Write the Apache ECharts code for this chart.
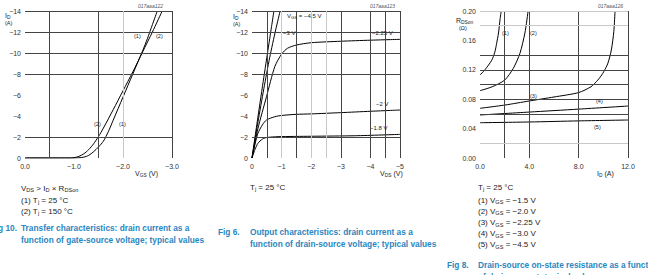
<!DOCTYPE html>
<html>
<head>
<meta charset="utf-8">
<script src="https://cdn.jsdelivr.net/npm/echarts@6/dist/echarts.min.js"></script>
<style>
html, body { margin: 0; padding: 0; background: #fff; }
#main { width: 648px; height: 275px; }
</style>
</head>
<body>
<div id="main"></div>
<script>
// Fig 10 - transfer characteristics, Id (A) vs Vgs (V)
var vgsT25 = [0, -0.5, -1.0, -1.1, -1.2, -1.3, -1.4, -1.5, -1.6, -1.7, -1.8, -2.0, -2.2, -2.4, -2.5, -2.6, -2.7];
var idT25 = [0, 0, 0, -0.02, -0.08, -0.25, -0.6, -1.05, -1.6, -2.5, -3.6, -5.8, -8.0, -10.2, -11.4, -12.7, -14];
var vgsT150 = [0, -0.5, -0.9, -1.0, -1.1, -1.2, -1.3, -1.4, -1.5, -1.6, -1.8, -2.0, -2.2, -2.4, -2.6, -2.8];
var idT150 = [0, 0, 0, -0.03, -0.15, -0.4, -0.8, -1.35, -2.05, -2.85, -4.6, -6.4, -8.2, -10.1, -12.0, -14];

// Fig 6 - output characteristics, Id (A) vs Vds (V), one curve per Vgs
var vdsG45 = [0, -0.2, -0.4, -0.6, -0.74];
var idG45 = [0, -3.9, -7.7, -11.4, -14];
var vdsG30 = [0, -0.2, -0.4, -0.6, -0.8, -0.95];
var idG30 = [0, -3.4, -6.6, -9.6, -12.2, -14];
var vdsG225 = [0, -0.2, -0.49, -0.77, -1.0, -1.2, -1.5, -2.0, -3.0, -4.0, -5.0];
var idG225 = [0, -2.8, -5.84, -8.7, -9.9, -10.45, -10.76, -10.98, -11.12, -11.22, -11.3];
var vdsG20 = [0, -0.1, -0.2, -0.35, -0.49, -0.77, -1.0, -1.5, -2.0, -3.0, -4.0, -5.0];
var idG20 = [0, -1.3, -2.35, -3.15, -3.62, -3.93, -4.05, -4.16, -4.2, -4.32, -4.45, -4.57];
var vdsG18 = [0, -0.1, -0.2, -0.35, -0.5, -0.88, -2.0, -3.5, -5.0];
var idG18 = [0, -0.8, -1.4, -1.8, -1.95, -2.03, -2.07, -2.12, -2.25];

// Fig 8 - on-state resistance, Rdson (ohm) vs Id (A)
var idR1 = [0, 0.4, 0.95, 1.2, 1.35, 1.5, 1.62, 1.72];
var rR1 = [0.113, 0.120, 0.133, 0.144, 0.156, 0.170, 0.188, 0.200];
var idR2 = [0, 1.0, 2.0, 2.7, 3.24, 3.64, 3.9];
var rR2 = [0.0916, 0.097, 0.106, 0.122, 0.1425, 0.170, 0.200];
var idR3 = [0, 2, 4, 6, 8, 9.0, 9.55, 9.95, 10.35, 10.65, 10.85, 10.95];
var rR3 = [0.0676, 0.072, 0.0776, 0.083, 0.089, 0.097, 0.106, 0.115, 0.128, 0.147, 0.172, 0.200];
var idR4 = [0, 4, 8, 12];
var rR4 = [0.0585, 0.0625, 0.0665, 0.0707];
var idR5 = [0, 4, 8, 12];
var rR5 = [0.048, 0.049, 0.0505, 0.0517];

// grid lines as drawn in the datasheet (not every tick has one)
var f10GridX = [-0.5, -1.5, -3.0];
var f10GridXLight = [-2.0];
var f10GridY = [-14, -12, -10, -8, -2];
var f6GridX = [-0.5, -1.5, -3.0, -4.0, -4.5, -5.0];
var f6GridXLight = [-1.0, -2.0, -2.5];
var f6GridY = [-14, -12, -10, -8, -2];
var f8GridX = [2, 4, 8, 12];
var f8GridY = [0.14, 0.12, 0.10, 0.08, 0.06];
var f8GridYLight = [0.20, 0.18, 0.02];

var FONT = 'Liberation Sans';
var CAPTION = '#2a86c0';
var CAP = 8.3;

function zip(xs, ys) {
    return xs.map(function (x, i) { return [x, ys[i]]; });
}

function neg(v, d) {
    if (v === 0) return (0).toFixed(d);
    return (v < 0 ? '\u2212' : '') + Math.abs(v).toFixed(d);
}

function curve(idx, xs, ys) {
    return {
        type: 'line', xAxisIndex: idx, yAxisIndex: idx,
        data: zip(xs, ys), showSymbol: false, smooth: 0.25,
        lineStyle: { color: '#000', width: 1 }, z: 3, silent: true
    };
}

function gridLines(idx, xs, ys, color) {
    var d = xs.map(function (v) { return { xAxis: v }; })
        .concat(ys.map(function (v) { return { yAxis: v }; }));
    return {
        type: 'line', xAxisIndex: idx, yAxisIndex: idx, data: [], z: 1, silent: true,
        markLine: {
            symbol: ['none', 'none'], silent: true, label: { show: false },
            lineStyle: { color: color, width: 1, type: 'solid' },
            emphasis: { disabled: true }, animation: false, data: d
        }
    };
}

function xAx(idx, min, max, step, inv, fmt) {
    return {
        gridIndex: idx, type: 'value', min: min, max: max, interval: step, inverse: inv,
        axisLine: { show: false }, axisTick: { show: false }, splitLine: { show: false },
        axisLabel: { fontSize: 7, color: '#333', fontFamily: FONT, margin: 5, formatter: fmt }
    };
}

// rich text with subscripts: {s|..}
function txt(x, y, text, size, extra) {
    var st = {
        text: text, fontSize: size, fontFamily: FONT, fill: '#222',
        align: 'left', textAlign: 'left', verticalAlign: 'middle', textVerticalAlign: 'middle',
        rich: { s: { fontSize: size * 0.7, fontFamily: FONT, fill: '#222', padding: [size * 0.6, 0, 0, 0] } }
    };
    if (extra) for (var k in extra) st[k] = extra[k];
    return { type: 'text', x: x, y: y, silent: true, z: 10, style: st };
}

function cap(x, y, text, extra) {
    var e = { fill: CAPTION, fontWeight: 'bold' };
    if (extra) for (var k in extra) e[k] = extra[k];
    return txt(x, y, text, CAP, e);
}

var graphics = [
    // fig 10
    txt(5, 15, 'I{s|D}', 7), txt(5, 23, '(A)', 5.5),
    txt(138, 6, '017aaa122', 5, { fill: '#555', fontStyle: 'italic' }),
    txt(134, 36, '(1)', 5.5), txt(156, 36, '(2)', 5.5),
    txt(94, 124, '(2)', 5.5), txt(119, 124, '(1)', 5.5),
    txt(135, 173, 'V{s|GS} (V)', 7),
    txt(21, 188, 'V{s|DS} > I{s|D} \u00d7 R{s|DSon}', 8),
    txt(21, 200, '(1) T{s|j} = 25 \u00b0C', 8),
    txt(21, 211, '(2) T{s|j} = 150 \u00b0C', 8),
    cap(17, 228, 'Fig 10.', { align: 'right', textAlign: 'right' }),
    cap(21, 228, 'Transfer characteristics: drain current as a'),
    cap(21, 240, 'function of gate-source voltage; typical values'),

    // fig 6
    txt(233, 16, 'I{s|D}', 7), txt(233, 24, '(A)', 5.5),
    txt(370, 6, '017aaa123', 5, { fill: '#555', fontStyle: 'italic' }),
    txt(287, 16, 'V{s|GS} = \u22124.5 V', 6),
    txt(283, 33, '\u22123 V', 6),
    txt(372, 33, '\u22122.25 V', 6),
    txt(376, 104, '\u22122 V', 6),
    txt(370, 128, '\u22121.8 V', 6),
    txt(380, 173, 'V{s|DS} (V)', 7),
    txt(250, 187, 'T{s|j} = 25 \u00b0C', 8),
    cap(218, 232, 'Fig 6.'),
    cap(250, 232, 'Output characteristics: drain current as a'),
    cap(250, 244, 'function of drain-source voltage; typical values'),

    // fig 8
    txt(456, 20, 'R{s|DSon}', 7), txt(459, 28, '(\u03a9)', 5.5),
    txt(598, 6, '017aaa126', 5, { fill: '#555', fontStyle: 'italic' }),
    txt(502, 33, '(1)', 5.5), txt(530, 33, '(2)', 5.5),
    txt(530, 96, '(3)', 5.5), txt(596, 101, '(4)', 5.5), txt(594, 127, '(5)', 5.5),
    txt(597, 173, 'I{s|D} (A)', 7),
    txt(478, 187, 'T{s|j} = 25 \u00b0C', 8),
    txt(478, 200, '(1) V{s|GS} = \u22121.5 V', 8),
    txt(478, 211, '(2) V{s|GS} = \u22122.0 V', 8),
    txt(478, 222.5, '(3) V{s|GS} = \u22122.25 V', 8),
    txt(478, 233.5, '(4) V{s|GS} = \u22123.0 V', 8),
    txt(478, 244.5, '(5) V{s|GS} = \u22124.5 V', 8),
    cap(447, 265, 'Fig 8.'),
    cap(478, 265, 'Drain-source on-state resistance as a function'),
    cap(478, 277, 'of drain current; typical values')
];

var option = {
    animation: false,
    backgroundColor: '#fff',
    grid: [
        { left: 25, top: 11, width: 147, height: 147, outerBoundsMode: 'none' },
        { left: 252, top: 11, width: 148, height: 147, outerBoundsMode: 'none' },
        { left: 480, top: 11, width: 148, height: 147, outerBoundsMode: 'none' }
    ],
    xAxis: [
        xAx(0, -3, 0, 1, true, function (v) { return neg(v, 1); }),
        xAx(1, -5, 0, 1, true, function (v) { return neg(v, 0); }),
        xAx(2, 0, 12, 4, false, function (v) { return v.toFixed(1); })
    ],
    yAxis: [
        xAx(0, -14, 0, 2, true, function (v) { return neg(v, 0); }),
        xAx(1, -14, 0, 2, true, function (v) { return neg(v, 0); }),
        xAx(2, 0, 0.2, 0.04, false, function (v) { return v.toFixed(2); })
    ],
    graphic: graphics,
    series: [
        gridLines(0, f10GridX, f10GridY, '#444'),
        gridLines(0, f10GridXLight, [], '#c8c8c8'),
        gridLines(1, f6GridX, f6GridY, '#444'),
        gridLines(1, f6GridXLight, [], '#c8c8c8'),
        gridLines(2, f8GridX, f8GridY, '#444'),
        gridLines(2, [], f8GridYLight, '#c8c8c8'),
        curve(0, vgsT25, idT25),
        curve(0, vgsT150, idT150),
        curve(1, vdsG45, idG45),
        curve(1, vdsG30, idG30),
        curve(1, vdsG225, idG225),
        curve(1, vdsG20, idG20),
        curve(1, vdsG18, idG18),
        curve(2, idR1, rR1),
        curve(2, idR2, rR2),
        curve(2, idR3, rR3),
        curve(2, idR4, rR4),
        curve(2, idR5, rR5)
    ]
};
// y axes: labels on the left
option.yAxis.forEach(function (a) { a.axisLabel.margin = 4; });

var chart = echarts.init(document.getElementById('main'), null, { renderer: 'svg' });
chart.setOption(option);
</script>
</body>
</html>
